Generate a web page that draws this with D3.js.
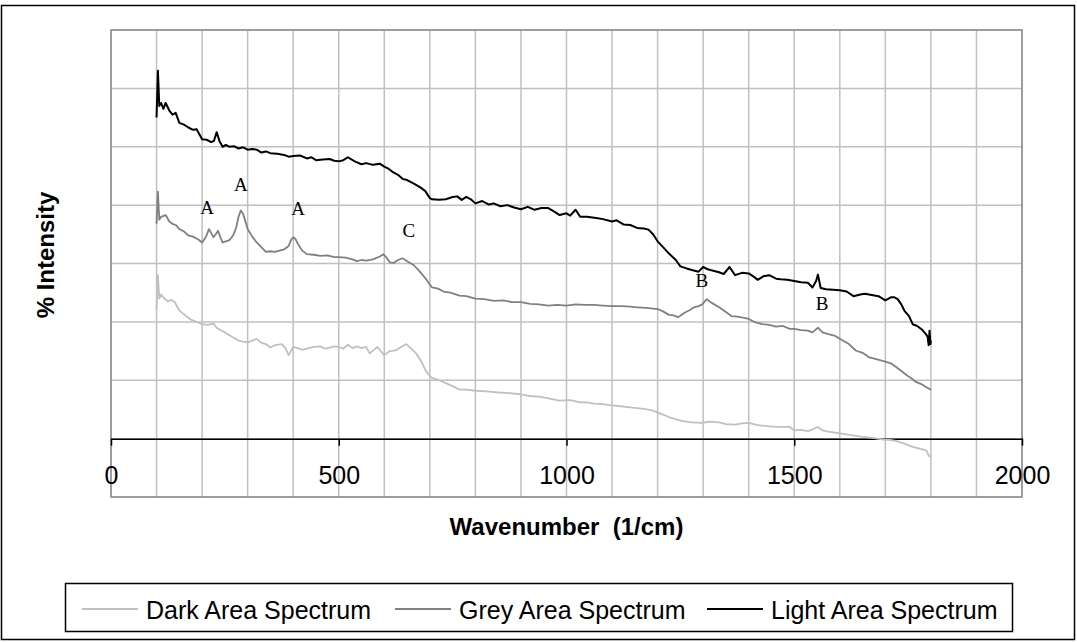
<!DOCTYPE html>
<html>
<head>
<meta charset="utf-8">
<script src="https://cdn.jsdelivr.net/npm/d3@7"></script>
<style>
    body { margin: 0; background: #fff; }
    text { font-family: Arial, "Liberation Sans", sans-serif; }
</style>
</head>
<body>
<div class="chart"></div>
<script>
// Spectra: [wavenumber (1/cm), intensity (grid units)].
let darkSpectrum = [
    [100,2.21],[103,2.8],[106,2.4],[110,2.47],[117,2.4],[125,2.35],[132,2.38],[140,2.34],[148,2.22],[155,2.16],
    [165,2.1],[175,2.04],[188,2.0],[200,1.96],[212,1.95],[225,1.97],[232,1.9],[240,1.86],[250,1.82],[265,1.75],
    [280,1.68],[290,1.66],[300,1.65],[310,1.68],[320,1.71],[330,1.64],[340,1.62],[350,1.56],[360,1.6],[375,1.62],
    [383,1.55],[390,1.43],[395,1.5],[400,1.57],[410,1.55],[420,1.52],[430,1.54],[445,1.57],[460,1.58],[470,1.54],
    [480,1.56],[490,1.58],[500,1.57],[510,1.54],[520,1.61],[530,1.55],[540,1.58],[550,1.55],[560,1.57],[568,1.46],
    [577,1.52],[585,1.57],[592,1.5],[600,1.43],[612,1.5],[625,1.51],[635,1.56],[648,1.62],[658,1.55],[670,1.46],
    [680,1.34],[690,1.18],[697,1.1],[705,1.04],[720,1.0],[735,0.95],[750,0.9],[765,0.84],[780,0.84],[800,0.82],
    [825,0.81],[850,0.79],[875,0.78],[900,0.76],[920,0.73],[940,0.72],[960,0.69],[985,0.65],[1008,0.66],[1030,0.62],
    [1045,0.62],[1060,0.6],[1080,0.59],[1100,0.57],[1125,0.55],[1145,0.53],[1170,0.51],[1185,0.49],[1200,0.45],[1212,0.41],
    [1225,0.37],[1240,0.33],[1255,0.3],[1275,0.28],[1298,0.27],[1315,0.29],[1335,0.28],[1350,0.25],[1370,0.24],[1385,0.26],
    [1400,0.27],[1420,0.23],[1445,0.21],[1465,0.2],[1490,0.2],[1500,0.14],[1515,0.15],[1530,0.13],[1540,0.16],[1552,0.2],
    [1562,0.14],[1575,0.12],[1600,0.09],[1625,0.06],[1650,0.03],[1675,0.01],[1700,-0.02],[1710,-0.02],[1723,-0.04],[1740,-0.08],
    [1760,-0.14],[1775,-0.17],[1790,-0.2],[1795,-0.29],[1800,-0.32]
];

let greySpectrum = [
    [100,3.68],[103,4.23],[106,3.75],[110,3.8],[120,3.83],[128,3.72],[135,3.68],[142,3.66],[150,3.59],[160,3.55],
    [170,3.48],[180,3.46],[190,3.42],[200,3.36],[208,3.45],[215,3.59],[220,3.52],[225,3.45],[230,3.5],[235,3.56],
    [240,3.45],[245,3.36],[252,3.38],[260,3.4],[268,3.48],[275,3.62],[280,3.8],[285,3.91],[290,3.85],[295,3.72],
    [300,3.59],[310,3.46],[320,3.36],[330,3.28],[340,3.2],[350,3.21],[360,3.2],[370,3.22],[380,3.24],[390,3.3],
    [395,3.4],[400,3.45],[405,3.42],[410,3.34],[420,3.22],[430,3.16],[445,3.15],[460,3.13],[475,3.14],[490,3.11],
    [500,3.11],[515,3.1],[530,3.07],[540,3.04],[550,3.06],[560,3.05],[575,3.07],[590,3.12],[598,3.16],[605,3.1],
    [612,3.02],[620,3.01],[630,3.06],[640,3.09],[652,3.03],[665,2.97],[678,2.86],[690,2.75],[700,2.64],[705,2.59],
    [718,2.57],[730,2.52],[745,2.5],[765,2.45],[780,2.44],[800,2.4],[820,2.39],[840,2.36],[860,2.37],[880,2.34],
    [900,2.34],[920,2.31],[940,2.3],[960,2.28],[980,2.29],[1000,2.28],[1020,2.3],[1040,2.29],[1060,2.29],[1080,2.28],
    [1100,2.27],[1120,2.27],[1140,2.26],[1155,2.25],[1175,2.24],[1200,2.22],[1212,2.18],[1225,2.12],[1235,2.11],[1245,2.08],
    [1260,2.16],[1270,2.2],[1280,2.25],[1290,2.27],[1298,2.3],[1308,2.39],[1318,2.33],[1335,2.25],[1350,2.17],[1362,2.1],
    [1375,2.09],[1390,2.07],[1400,2.05],[1415,1.99],[1430,1.96],[1445,1.95],[1460,1.92],[1475,1.93],[1490,1.88],[1500,1.88],
    [1515,1.86],[1530,1.85],[1540,1.82],[1552,1.9],[1562,1.82],[1575,1.79],[1590,1.76],[1600,1.71],[1620,1.62],[1635,1.51],
    [1650,1.47],[1665,1.39],[1680,1.36],[1700,1.32],[1712,1.29],[1723,1.23],[1740,1.13],[1750,1.07],[1758,1.03],[1765,0.98],
    [1780,0.93],[1790,0.88],[1800,0.84]
];

let lightSpectrum = [
    [100,5.5],[103,6.3],[106,5.7],[110,5.75],[115,5.65],[120,5.75],[128,5.62],[135,5.55],[142,5.58],[150,5.41],
    [160,5.38],[170,5.33],[180,5.29],[188,5.3],[200,5.13],[210,5.12],[220,5.08],[226,5.1],[232,5.25],[238,5.1],
    [245,5.0],[252,5.03],[260,5.0],[270,5.01],[280,4.97],[290,4.99],[300,4.95],[310,4.96],[320,4.95],[330,4.9],
    [340,4.92],[350,4.89],[365,4.88],[380,4.86],[390,4.83],[400,4.84],[415,4.85],[430,4.8],[440,4.82],[450,4.77],
    [465,4.78],[480,4.79],[490,4.76],[500,4.75],[510,4.77],[520,4.82],[535,4.75],[550,4.7],[560,4.72],[575,4.69],
    [590,4.71],[600,4.66],[610,4.62],[620,4.56],[630,4.52],[640,4.45],[650,4.43],[665,4.37],[680,4.3],[690,4.24],
    [700,4.12],[705,4.1],[720,4.09],[735,4.1],[750,4.14],[760,4.15],[770,4.09],[780,4.14],[790,4.1],[800,4.03],
    [815,4.07],[830,4.01],[840,4.03],[855,3.98],[870,4.0],[885,3.96],[900,3.93],[915,3.97],[930,3.92],[945,3.95],
    [960,3.95],[975,3.88],[985,3.83],[1000,3.86],[1008,3.82],[1020,3.92],[1030,3.8],[1045,3.8],[1065,3.78],[1080,3.76],
    [1100,3.72],[1110,3.74],[1125,3.67],[1140,3.66],[1155,3.61],[1170,3.6],[1180,3.58],[1190,3.5],[1200,3.38],[1212,3.28],
    [1225,3.17],[1240,3.06],[1250,2.95],[1262,2.92],[1275,2.89],[1290,2.86],[1300,2.94],[1310,2.9],[1320,2.88],[1335,2.85],
    [1345,2.82],[1358,2.94],[1370,2.8],[1385,2.84],[1400,2.83],[1410,2.78],[1420,2.72],[1432,2.78],[1445,2.8],[1460,2.74],
    [1470,2.73],[1485,2.72],[1500,2.7],[1515,2.68],[1530,2.67],[1540,2.59],[1548,2.7],[1552,2.81],[1558,2.58],[1570,2.56],
    [1585,2.55],[1600,2.54],[1615,2.52],[1630,2.44],[1645,2.47],[1655,2.48],[1670,2.46],[1685,2.44],[1700,2.37],[1712,2.42],
    [1720,2.42],[1727,2.39],[1735,2.3],[1742,2.19],[1752,2.1],[1760,1.96],[1770,1.93],[1780,1.87],[1790,1.78],[1793,1.74],
    [1795,1.6],[1797,1.85],[1799,1.62],[1800,1.68]
];

// Peak labels placed on the chart.
let peakLabels = ['A', 'A', 'A', 'C', 'B', 'B'];
let peakWavenumbers = [211, 285, 411, 654, 1297, 1561];
let peakHeights = [3.96, 4.35, 3.94, 3.56, 2.71, 2.31];

let xTicks = [0, 500, 1000, 1500, 2000];
let seriesNames = ['Dark Area Spectrum', 'Grey Area Spectrum', 'Light Area Spectrum'];
let seriesColors = ['#c0c0c0', '#808080', '#000000'];

// Build constants.
let width = 1077,
    height = 642,
    plot = {left: 111, right: 1022, top: 30, bottom: 497};

let svg = d3.select('.chart')
    .append('svg')
        .attr('width', width)
        .attr('height', height);

// Outer frame.
svg.append('rect')
    .attr('x', 1.5).attr('y', 5.5)
    .attr('width', 1073).attr('height', 634)
    .attr('fill', 'none')
    .attr('stroke', '#000')
    .attr('stroke-width', 1.5);

// Scales.
let x = d3.scaleLinear().domain([0, 2000]).range([plot.left, plot.right]);
let y = d3.scaleLinear().domain([-1, 7]).range([plot.bottom, plot.top]);

// Grid.
svg.append('g')
    .selectAll('line')
    .data(d3.range(0, 2001, 100))
    .join('line')
        .attr('x1', d => x(d)).attr('x2', d => x(d))
        .attr('y1', plot.top).attr('y2', plot.bottom)
        .attr('stroke', '#c0c0c0')
        .attr('stroke-width', 1.5);

svg.append('g')
    .selectAll('line')
    .data(d3.range(-1, 8))
    .join('line')
        .attr('x1', plot.left).attr('x2', plot.right)
        .attr('y1', d => y(d)).attr('y2', d => y(d))
        .attr('stroke', '#c0c0c0')
        .attr('stroke-width', 1.5);

svg.append('rect')
    .attr('x', plot.left).attr('y', plot.top)
    .attr('width', plot.right - plot.left)
    .attr('height', plot.bottom - plot.top)
    .attr('fill', 'none')
    .attr('stroke', '#8c8c8c')
    .attr('stroke-width', 1.5);

// X axis crossing at zero intensity.
let xAxis = svg.append('g')
    .attr('transform', `translate(0, ${y(0)})`)
    .call(d3.axisBottom(x)
        .tickValues(xTicks)
        .tickFormat(d3.format('d'))
        .tickSize(7)
        .tickPadding(21)
        .tickSizeOuter(0));

xAxis.select('.domain').attr('stroke', '#000').attr('stroke-width', 1.5);
xAxis.selectAll('.tick line').attr('stroke', '#000').attr('stroke-width', 1.5);
xAxis.selectAll('.tick text')
    .attr('font-family', 'Arial, "Liberation Sans", sans-serif')
    .attr('font-size', 25)
    .attr('fill', '#000');

// Spectra.
let line = d3.line()
    .x(d => x(d[0]))
    .y(d => y(d[1]));

let spectra = [darkSpectrum, greySpectrum, lightSpectrum];
let widths = [1.8, 1.8, 2];

svg.append('g')
    .selectAll('path')
    .data(spectra)
    .join('path')
        .attr('d', line)
        .attr('fill', 'none')
        .attr('stroke', (d, i) => seriesColors[i])
        .attr('stroke-width', (d, i) => widths[i])
        .attr('stroke-linejoin', 'round');

// Peak labels.
svg.append('g')
    .selectAll('text')
    .data(peakLabels)
    .join('text')
        .attr('x', (d, i) => x(peakWavenumbers[i]))
        .attr('y', (d, i) => y(peakHeights[i]))
        .attr('text-anchor', 'middle')
        .attr('dominant-baseline', 'central')
        .style('font-family', '"Liberation Serif", "Times New Roman", serif')
        .attr('font-size', 19)
        .text(d => d);

// Axis titles.
svg.append('text')
    .attr('x', (plot.left + plot.right) / 2)
    .attr('y', 535)
    .attr('text-anchor', 'middle')
    .attr('font-size', 24)
    .attr('font-weight', 'bold')
    .style('white-space', 'pre')
    .text('Wavenumber  (1/cm)');

svg.append('text')
    .attr('transform', 'translate(54, 255) rotate(-90)')
    .attr('text-anchor', 'middle')
    .attr('font-size', 24)
    .attr('font-weight', 'bold')
    .text('% Intensity');

// Legend.
let legend = svg.append('g');

legend.append('rect')
    .attr('x', 65.5).attr('y', 583.5)
    .attr('width', 947).attr('height', 48)
    .attr('fill', 'none')
    .attr('stroke', '#000')
    .attr('stroke-width', 1.5);

let legendX = [82, 395, 707];

let item = legend.selectAll('g.item')
    .data(seriesNames)
    .join('g')
        .attr('class', 'item')
        .attr('transform', (d, i) => `translate(${legendX[i]}, 609)`);

item.append('line')
    .attr('x1', 0).attr('x2', 56)
    .attr('stroke', (d, i) => seriesColors[i])
    .attr('stroke-width', 2);

item.append('text')
    .attr('x', 64)
    .attr('y', 10)
    .attr('font-size', 25)
    .text(d => d);
</script>
</body>
</html>
